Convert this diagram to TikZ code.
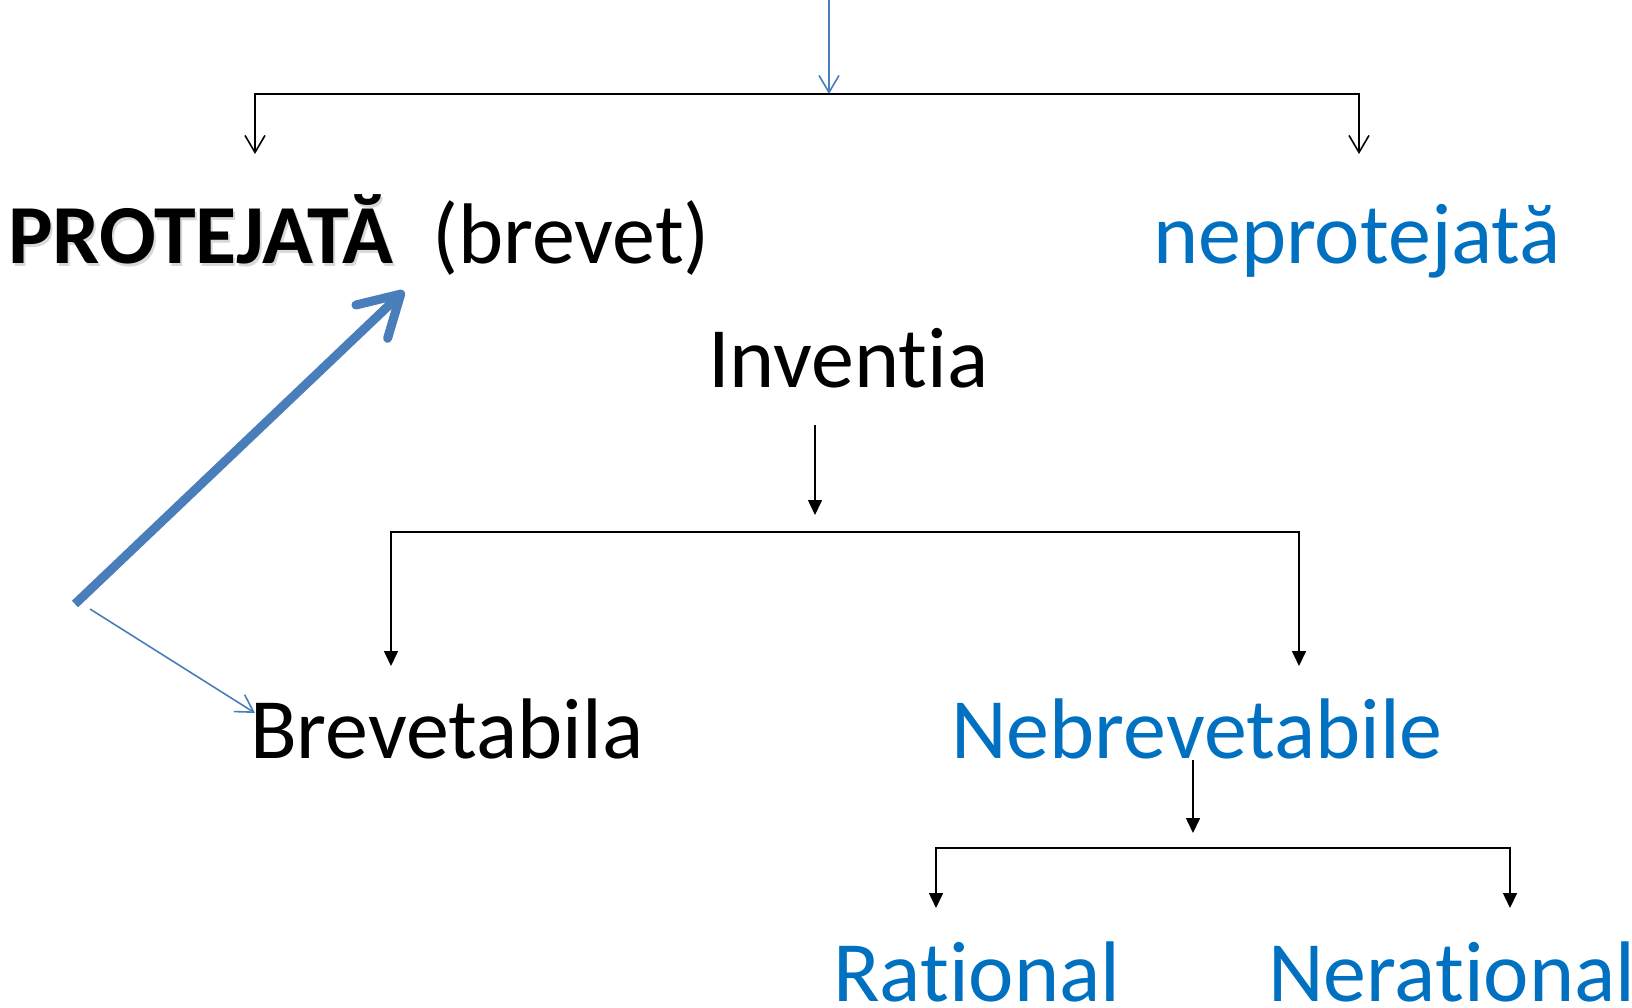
\documentclass[tikz,border=0pt]{standalone}
\usepackage{fontspec}
\setmainfont{Carlito}[Ligatures=NoCommon]
\usepackage{tikz}
\usetikzlibrary{arrows.meta}

\definecolor{txtblue}{HTML}{0070C0}
\definecolor{lineblue}{HTML}{4A7EBB}

\tikzset{
    label/.style={anchor=base west, inner sep=0pt, font=\fontsize{86}{100}\selectfont},
    bluelabel/.style={label, text=txtblue},
    openarr/.style={draw=black, line width=1.6pt, -{Straight Barb[length=17pt,width=20pt]}},
    fillarr/.style={draw=black, line width=1.6pt, -{Triangle[length=15pt,width=14pt]}},
    bluearr/.style={draw=lineblue, line width=1.6pt, -{Straight Barb[length=17pt,width=20pt]}},
    bigarr/.style={draw=lineblue, line width=9pt, -{Straight Barb[length=40pt,width=46pt,round]}}
}

\begin{document}
\begin{tikzpicture}[x=1pt, y=-1pt]
        \useasboundingbox (0,0) rectangle (1632,1008);

        % texts
        \node[label, font=\fontsize{84}{100}\selectfont\bfseries, text=black!30, opacity=0.5] (protshadow) at (10,266) {PROTEJATĂ};
        \node[label, font=\fontsize{84}{100}\selectfont\bfseries] (prot) at (8,263) {PROTEJATĂ};
        \node[label] (brevet) at (432,263) {(brevet)};
        \node[bluelabel] (neprot) at (1153,263) {neprotejată};
        \node[label] (inv) at (708,387) {Inventia};
        \node[label] (brev) at (250,758) {Brevetabila};
        \node[bluelabel] (nebrev) at (951,758) {Nebrevetabile};
        \node[bluelabel] (rat) at (833,1001) {Rational};
        \node[bluelabel] (nerat) at (1268,1001) {Nerational};

        % top split
        \coordinate (top0) at (829,0);
        \coordinate (top1) at (829,94);
        \coordinate (protin) at (255,154);
        \coordinate (neprotin) at (1359,154);
        \draw[bluearr] (top0) -- (top1);
        \draw[openarr] (top1) -| (protin);
        \draw[openarr] (top1) -| (neprotin);

        % split under Inventia
        \coordinate (inv0) at (815,425);
        \coordinate (inv1) at (815,515);
        \coordinate (invsplit) at (815,532);
        \coordinate (brevin) at (391,666);
        \coordinate (nebrevin) at (1299,666);
        \draw[fillarr] (inv0) -- (inv1);
        \draw[fillarr] (invsplit) -| (brevin);
        \draw[fillarr] (invsplit) -| (nebrevin);

        % split under Nebrevetabile
        \coordinate (neb0) at (1193,760);
        \coordinate (neb1) at (1193,833);
        \coordinate (nebsplit) at (1193,848);
        \coordinate (ratin) at (936,908);
        \coordinate (neratin) at (1510,908);
        \draw[fillarr] (neb0) -- (neb1);
        \draw[fillarr] (nebsplit) -| (ratin);
        \draw[fillarr] (nebsplit) -| (neratin);

        % blue arrows on the left
        \coordinate (src) at (75,604);
        \coordinate (srcthin) at (90,609);
        \coordinate (prottip) at (404,291);
        \coordinate (brevtip) at (255,713);
        \draw[bigarr] (src) -- (prottip);
        \draw[bluearr] (srcthin) -- (brevtip);
    \end{tikzpicture}
\end{document}
